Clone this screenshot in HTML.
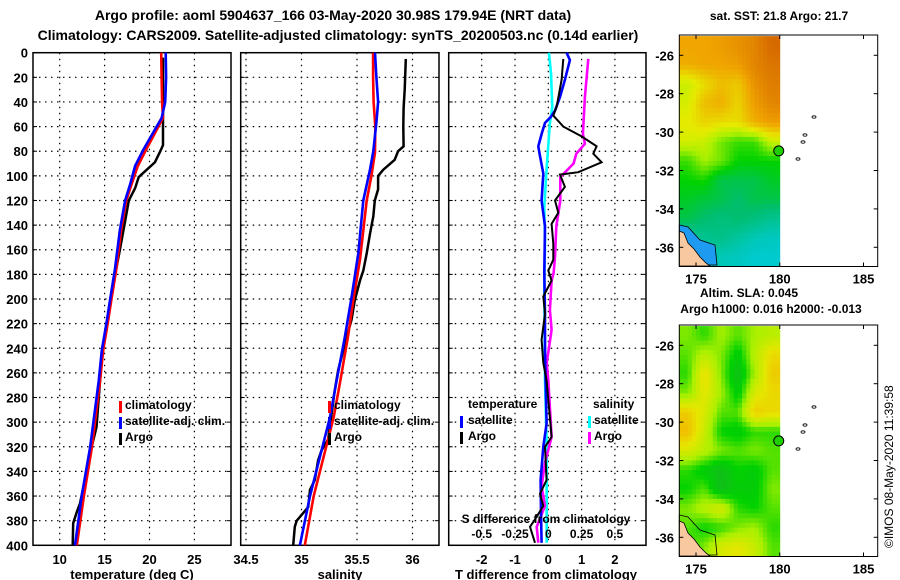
<!DOCTYPE html>
<html><head><meta charset="utf-8">
<style>
html,body{margin:0;padding:0;background:#fff;}
svg{display:block;font-family:"Liberation Sans",sans-serif;font-weight:bold;}
</style></head>
<body>
<svg id="fig" width="900" height="580" viewBox="0 0 900 580" xmlns="http://www.w3.org/2000/svg">
<text x="333" y="20" font-size="14" text-anchor="middle">Argo profile: aoml 5904637_166 03-May-2020 30.98S 179.94E (NRT data)</text>
<text x="338" y="40" font-size="14" text-anchor="middle">Climatology: CARS2009. Satellite-adjusted climatology: synTS_20200503.nc (0.14d earlier)</text>
<text x="779" y="20" font-size="12" text-anchor="middle">sat. SST: 21.8 Argo: 21.7</text>
<text x="749" y="297" font-size="12" text-anchor="middle">Altim. SLA: 0.045</text>
<text x="771" y="313" font-size="12" text-anchor="middle">Argo h1000: 0.016 h2000: -0.013</text>
<text transform="translate(893,548) rotate(-90)" font-size="12" font-weight="normal">©IMOS 08-May-2020 11:39:58</text>
<g id="g"></g>
</svg>
<script>
// ---- profile data ----
const depthTicks = [0,20,40,60,80,100,120,140,160,180,200,220,240,260,280,300,320,340,360,380,400];
const tempTicks = [10,15,20,25];
const salTicks = [34.5,35,35.5,36];
const salTickLabels = ["34.5","35","35.5","36"];
const tdTicks = [-2,-1,0,1,2];
const sdTicks = [-0.5,-0.25,0,0.25,0.5];
const sdTickLabels = ["-0.5","-0.25","0","0.25","0.5"];

const tClimDepth = [0,20,40,53,79,92,107,120,144,176,201,220,241,266,320,360,400];
const tClimVal = [21.3,21.35,21.4,21.5,19.6,18.7,18.0,17.4,16.85,16.3,15.75,15.35,14.85,14.5,13.6,12.7,11.9];
const tSatDepth = [0,20,40,53,79,92,107,120,144,176,201,220,241,266,320,360,400];
const tSatVal = [21.8,21.85,21.75,21.35,19.3,18.4,17.84,17.28,16.7,16.15,15.6,15.2,14.7,14.35,13.4,12.45,11.7];
const tArgoDepth = [4,20,40,60,75,80,89,95,101,110,120,136,160,179,195,247,304,320,347,366,373,382,400];
const tArgoVal = [21.5,21.5,21.5,21.5,21.5,21.2,20.6,19.7,18.8,18.4,17.7,17.3,16.7,16.2,15.8,14.7,14.1,13.56,12.8,12.26,11.9,11.5,11.45];

const sClimDepth = [0,20,40,60,81,100,120,168,201,230,266,296,328,360,400];
const sClimVal = [35.645,35.645,35.65,35.665,35.662,35.63,35.587,35.527,35.467,35.42,35.35,35.29,35.2,35.11,35.03];
const sSatDepth = [0,20,40,55,80,95,120,163,198,231,266,296,328,360,400];
const sSatVal = [35.662,35.675,35.69,35.677,35.647,35.617,35.557,35.512,35.452,35.39,35.317,35.257,35.167,35.077,34.986];
const sArgoDepth = [5,30,45,60,76,80,87,95,100,111,120,133,147,163,177,185,201,217,231,258,274,314,323,331,347,355,369,380,385,400];
const sArgoVal = [35.94,35.93,35.92,35.917,35.92,35.87,35.84,35.737,35.69,35.69,35.66,35.647,35.617,35.587,35.557,35.527,35.48,35.45,35.407,35.33,35.30,35.24,35.18,35.15,35.12,35.077,35.06,34.957,34.94,34.925];

const tdSatDepth = [0,6,22,36,47,52,57,66,76,84,98,120,141,179,212,239,266,301,320,347,374,398];
const tdSatVal = [0.55,0.65,0.5,0.35,0.2,0.08,-0.1,-0.2,-0.3,-0.25,-0.15,-0.2,-0.1,-0.12,-0.1,-0.1,-0.08,-0.05,-0.15,-0.23,-0.22,-0.2];
const tdArgoDepth = [5,22,44,51,60,68,76,82,89,97,99,109,120,130,139,155,168,177,185,198,212,233,252,266,312,320,347,358,368,379,385,398];
const tdArgoVal = [0.45,0.4,0.25,0.15,0.45,1.0,1.45,1.35,1.6,0.9,0.35,0.5,0.2,0.3,0.1,0.15,0.15,0,0.1,-0.15,-0.1,-0.2,-0.15,-0.05,0.1,-0.1,-0.05,-0.25,-0.15,-0.4,-0.55,-0.4];
const sdSatDepth = [0,17,44,57,93,125,152,190,266,320,374,398];
const sdSatVal = [0.005,0.02,0.03,0.012,-0.012,-0.03,-0.025,-0.03,-0.025,-0.012,-0.012,-0.012];
const sdArgoDepth = [5,36,66,74,82,90,101,120,141,166,179,185,209,225,252,266,312,333,352,368,385,398];
const sdArgoVal = [0.3,0.275,0.26,0.275,0.21,0.19,0.09,0.09,0.06,0.05,0.04,0.025,0.012,0.025,-0.012,0,0.025,-0.025,-0.05,-0.025,-0.087,-0.075];

// ---- map data (1-degree cells centred, lat -25..-37 rows, lon 174..180 cols) ----
const mapLonTicks = [175,180,185];
const mapLatTicks = [-26,-28,-30,-32,-34,-36];
const sstGrid = [
 [0.8,0.8,0.82,0.85,0.88,0.95],
 [0.78,0.8,0.8,0.82,0.88,0.92],
 [0.6,0.68,0.75,0.72,0.85,0.9],
 [0.62,0.75,0.78,0.7,0.82,0.88],
 [0.65,0.7,0.68,0.68,0.78,0.82],
 [0.62,0.6,0.5,0.45,0.45,0.6],
 [0.45,0.55,0.5,0.4,0.4,0.4],
 [0.4,0.42,0.3,0.3,0.3,0.35],
 [0.35,0.32,0.3,0.25,0.3,0.3],
 [0.3,0.25,0.22,0.25,0.22,0.18],
 [0.15,0.18,0.2,0.15,0.1,0.08],
 [0.1,0.12,0.1,0.08,0.05,0.05]];
const slaGrid = [
 [0.5,0.4,0.55,0.45,0.55,0.6],
 [0.45,0.6,0.5,0.3,0.6,0.8],
 [0.4,0.8,0.5,0.2,0.55,0.85],
 [0.5,0.75,0.55,0.3,0.7,0.8],
 [0.85,0.7,0.45,0.45,0.85,0.8],
 [0.9,0.65,0.35,0.3,0.4,0.4],
 [0.7,0.6,0.5,0.45,0.5,0.45],
 [0.4,0.3,0.2,0.35,0.3,0.45],
 [0.35,0.45,0.2,0.3,0.3,0.5],
 [0.5,0.6,0.7,0.4,0.35,0.45],
 [0.45,0.35,0.4,0.5,0.55,0.4],
 [0.4,0.5,0.7,0.75,0.65,0.45]];
const argoLon = 179.94, argoLat = -30.98;

const NS="http://www.w3.org/2000/svg";
const G=document.getElementById('g');
function el(tag,attrs,parent){const e=document.createElementNS(NS,tag);for(const k in attrs)e.setAttribute(k,attrs[k]);(parent||G).appendChild(e);return e;}

const yTop=52.7, yScale=1.2315;
const yD=d=>yTop+d*yScale;
const panels=[
 {x0:33,x1:231,f:v=>59.7+(v-10)*8.98,name:'temperature-panel'},
 {x0:240.7,x1:439,f:v=>301.5+(v-35)*111,name:'salinity-panel'},
 {x0:448.7,x1:646,f:v=>548.3+v*33.3,name:'difference-panel'}];
const sdX=v=>548.3+(v/0.25)*33.3;

panels.forEach((p,i)=>{
 const grp=el('g',{});
 
 
 depthTicks.forEach(d=>{
  const y=yD(d);
  const l=el('line',{x1:p.x0,x2:p.x1,y1:y,y2:y,stroke:'#000','stroke-width':1.2,'stroke-dasharray':'1.5,4.5'},grp);
  
  
  el('line',{x1:p.x0,x2:p.x0+4,y1:y,y2:y,stroke:'#000'},grp);
  el('line',{x1:p.x1-4,x2:p.x1,y1:y,y2:y,stroke:'#000'},grp);
  if(i===0){
   const t=el('text',{x:28,y:y+5,'font-size':13,'text-anchor':'end'},grp);
   t.textContent=d;
   
   
  }
 });
 const ticks = i===0?tempTicks:i===1?salTicks:tdTicks;
 ticks.forEach((v,k)=>{
  const x=p.f(v);
  if(x>p.x0+2 && x<p.x1-2){
   const l=el('line',{x1:x,x2:x,y1:yTop,y2:yD(400),stroke:'#000','stroke-width':1.2,'stroke-dasharray':'1.5,4.5'},grp);
   
   
  }
  const t=el('text',{x:i===1&&k===0?246:x,y:564,'font-size':13,'text-anchor':'middle'},grp);
  t.textContent=i===1?salTickLabels[k]:v;
  
  
 });
 const box=el('rect',{x:p.x0,y:yTop,width:p.x1-p.x0,height:yD(400)-yTop,fill:'none',stroke:'#000','stroke-width':1.5},grp);
 
 
});

function line(depths,vals,fx,color,w,name){
 const pts=depths.map((d,k)=>fx(vals[k]).toFixed(1)+','+yD(d).toFixed(1)).join(' ');
 const pl=el('polyline',{points:pts,fill:'none',stroke:color,'stroke-width':w,'stroke-linejoin':'miter'});
 
 
}
const fT=panels[0].f, fS=panels[1].f, fD=panels[2].f;
line(tArgoDepth,tArgoVal,fT,'#000',2.5,'temperature-argo-line');
line(tClimDepth,tClimVal,fT,'#f00',2.6,'temperature-climatology-line');
line(tSatDepth,tSatVal,fT,'#00f',2.6,'temperature-satellite-line');
line(sArgoDepth,sArgoVal,fS,'#000',2.5,'salinity-argo-line');
line(sClimDepth,sClimVal,fS,'#f00',2.6,'salinity-climatology-line');
line(sSatDepth,sSatVal,fS,'#00f',2.6,'salinity-satellite-line');
line(sdSatDepth,sdSatVal,sdX,'#0ff',2.6,'salinity-diff-satellite-line');
line(sdArgoDepth,sdArgoVal,sdX,'#f0f',2.6,'salinity-diff-argo-line');
line(tdSatDepth,tdSatVal,fD,'#00f',2.6,'temperature-diff-satellite-line');
line(tdArgoDepth,tdArgoVal,fD,'#000',2,'temperature-diff-argo-line');

function txt(x,y,s,size,name,anchor){const t=el('text',{x:x,y:y,'font-size':size,'text-anchor':anchor||'start'});t.textContent=s;return t;}
function mark(x,y,c,name){const r=el('rect',{x:x,y:y-8,width:3,height:12,fill:c});}
[[119,125,'climatology','#f00'],[119,125,'satellite-adj. clim.','#00f'],[119,125,'Argo','#000']].forEach((e,k)=>{
 mark(e[0],409+k*16,e[3],'legend-marker');txt(e[1],409+k*16,e[2],12,'legend-entry');});
[[328,334,'climatology','#f00'],[328,334,'satellite-adj. clim.','#00f'],[328,334,'Argo','#000']].forEach((e,k)=>{
 mark(e[0],409+k*16,e[3],'legend-marker');txt(e[1],409+k*16,e[2],12,'legend-entry');});
txt(468,408,'temperature',12,'legend-heading-temperature');
txt(593,408,'salinity',12,'legend-heading-salinity');
mark(460,424,'#00f','legend-marker');txt(468,424,'satellite',12,'legend-entry');
mark(460,440,'#000','legend-marker');txt(468,440,'Argo',12,'legend-entry');
mark(588,424,'#0ff','legend-marker');txt(594,424,'satellite',12,'legend-entry');
mark(588,440,'#f0f','legend-marker');txt(594,440,'Argo',12,'legend-entry');
txt(546,523,'S difference from climatology',12,'s-diff-axis-title','middle');
sdTicks.forEach((v,k)=>txt(sdX(v),538,sdTickLabels[k],12,'s-diff-tick-label','middle'));
txt(132,579,'temperature (deg C)',13,'x-axis-title-temperature','middle');
txt(340,579,'salinity',13,'x-axis-title-salinity','middle');
txt(546,579,'T difference from climatology',13,'x-axis-title-t-diff','middle');

// ---- maps ----
function sstColor(v){
 const stops=[[0,[0,205,230]],[0.25,[0,190,110]],[0.4,[0,210,0]],[0.55,[170,240,0]],[0.65,[230,235,0]],[0.8,[240,165,0]],[1,[205,85,0]]];
 return interp(stops,v);}
function slaColor(v){
 const stops=[[0,[40,165,60]],[0.35,[0,210,0]],[0.55,[170,240,0]],[0.75,[230,230,0]],[0.9,[240,190,0]],[1,[240,170,0]]];
 return interp(stops,v);}
function interp(stops,v){
 for(let i=1;i<stops.length;i++){if(v<=stops[i][0]){const a=stops[i-1],b=stops[i],t=(v-a[0])/(b[0]-a[0]);
  return 'rgb('+a[1].map((c,j)=>Math.round(c+(b[1][j]-c)*t)).join(',')+')';}}
 return 'rgb('+stops[stops.length-1][1].join(',')+')';}
function sample(grid,r,c){ // bilinear in cell-centre coords
 const R=grid.length,C=grid[0].length;
 r=Math.max(0,Math.min(R-1,r));c=Math.max(0,Math.min(C-1,c));
 const r0=Math.floor(r),c0=Math.floor(c),r1=Math.min(R-1,r0+1),c1=Math.min(C-1,c0+1),fr=r-r0,fc=c-c0;
 return grid[r0][c0]*(1-fr)*(1-fc)+grid[r0][c1]*(1-fr)*fc+grid[r1][c0]*fr*(1-fc)+grid[r1][c1]*fr*fc;}

function drawMap(top,grid,colorFn,name){
 const x0=679.3,x1=877.7,bottom=top+231.5;
 const lonX=lon=>696+(lon-175)*16.75;
 const latY=lat=>top+20.3+(-26-lat)*19.2;
 const grp=el('g',{});
 
 
 const sub=4, R=grid.length, C=grid[0].length;
 for(let i=0;i<R*sub;i++)for(let j=0;j<C*sub;j++){
  const v=sample(grid,(i+0.5)/sub-0.5,(j+0.5)/sub-0.5);
  const xa=lonX(174+j/sub),xb=lonX(174+(j+1)/sub),ya=latY(-25-i/sub),yb=latY(-25-(i+1)/sub);
  const cell=el('rect',{x:xa.toFixed(1),y:ya.toFixed(1),width:(xb-xa+0.4).toFixed(1),height:(yb-ya+0.4).toFixed(1),fill:colorFn(v)},grp);
  
  
 }
 const blue=el('path',{d:`M${x0} ${top+190} L688 ${top+192} L700 ${top+205} L715 ${top+210} L717 ${top+230} L${x0} ${top+230} Z`,fill:colorFn===sstColor?'#1e9bf0':'none',stroke:'#000','stroke-width':0.8},grp);
 
 
 const land=el('path',{d:`M${x0} ${top+196} L684 ${top+198} L688 ${top+208} L694 ${top+214} L700 ${top+222} L706 ${top+228} L710 ${top+231} L${x0} ${top+231} Z`,fill:'#f8c8a0',stroke:'#000','stroke-width':0.8},grp);
 
 
 [[814,117],[805,135],[803,142],[798,159]].forEach(p=>{
  const e=el('ellipse',{cx:p[0],cy:top-35+p[1],rx:2,ry:1.2,fill:'none',stroke:'#000','stroke-width':0.8},grp);
  
  
 });
 const ci=el('circle',{cx:lonX(argoLon),cy:latY(argoLat),r:5,fill:'#1ed000',stroke:'#000','stroke-width':1},grp);
 
 
 const fr=el('rect',{x:x0,y:top,width:x1-x0,height:bottom-top,fill:'none',stroke:'#000','stroke-width':1},grp);
 
 
 mapLonTicks.forEach(l=>{const x=lonX(l);
  el('line',{x1:x,x2:x,y1:top,y2:top+4,stroke:'#000'},grp);
  el('line',{x1:x,x2:x,y1:bottom-4,y2:bottom,stroke:'#000'},grp);
  txt(x,bottom+17,String(l),13,'map-lon-label','middle');});
 mapLatTicks.forEach(l=>{const y=latY(l);
  el('line',{x1:x0,x2:x0+4,y1:y,y2:y,stroke:'#000'},grp);
  el('line',{x1:x1-4,x2:x1,y1:y,y2:y,stroke:'#000'},grp);
  txt(674,y+5,String(l),13,'map-lat-label','end');});
}
drawMap(35,sstGrid,sstColor,'sst-map');
drawMap(325,slaGrid,slaColor,'sla-map');
</script>
</body></html>
